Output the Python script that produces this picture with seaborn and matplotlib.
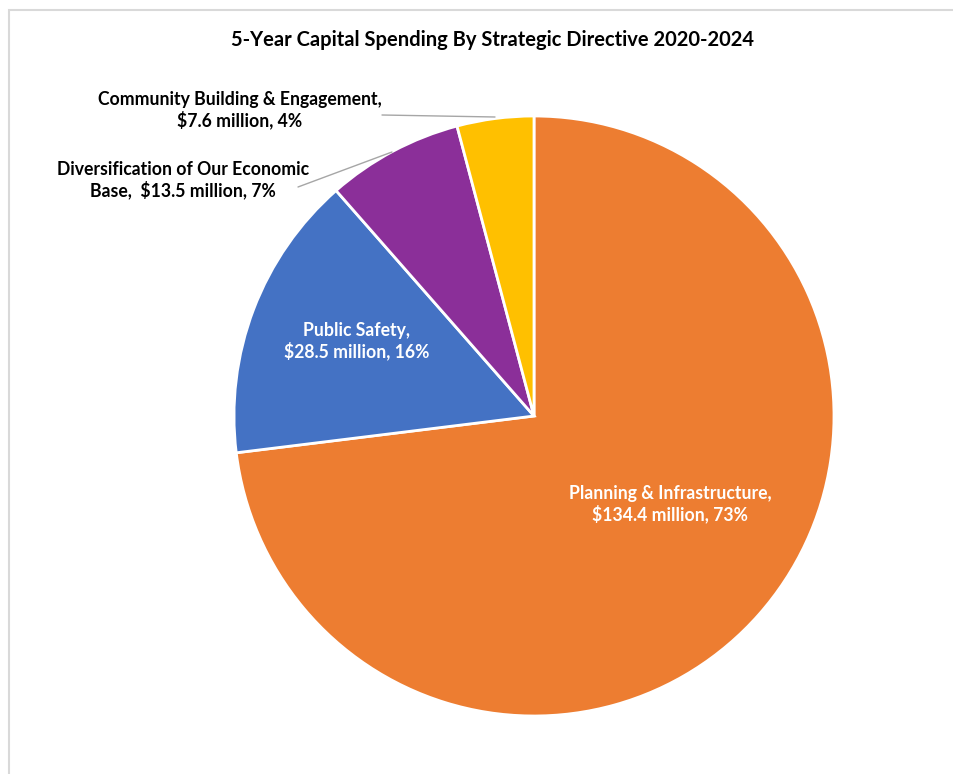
import matplotlib
matplotlib.use("Agg")
import matplotlib.pyplot as plt
from matplotlib.patches import Rectangle
import seaborn as sns

# Capital spending by strategic directive, 2020-2024 ($ millions)
directives = [
    "Planning & Infrastructure",
    "Public Safety",
    "Diversification of Our Economic\nBase, ",
    "Community Building & Engagement",
]
spending = [134.4, 28.5, 13.5, 7.6]
percent_labels = [73, 16, 7, 4]
colors = ["#ED7D31", "#4472C4", "#8B2F99", "#FFC000"]

sns.set_theme(style="white")
plt.rcParams["font.family"] = ["Lato", "DejaVu Sans"]

W, H = 954, 774
fig = plt.figure(figsize=(W / 100, H / 100), dpi=100)
fig.patch.set_facecolor("white")
ax = fig.add_axes([0, 0, 1, 1])

# chart-area frame
fig.patches.append(Rectangle((9 / W, -0.1), 1.2, (H - 10) / H + 0.1,
                             transform=fig.transFigure, fill=False,
                             edgecolor="#d9d9d9", linewidth=1.5))

cx, cy, r = 534, H - 416, 300
wedges, _ = ax.pie(spending, colors=colors, startangle=90, counterclock=False,
                   center=(cx, cy), radius=r,
                   wedgeprops=dict(edgecolor="white", linewidth=2))
ax.set_xlim(0, W)
ax.set_ylim(0, H)
ax.set_aspect("equal")
ax.axis("off")

def label(i):
    name = directives[i]
    sep = "" if name.endswith(", ") else ",\n"
    return f"{name}{sep}${spending[i]} million, {percent_labels[i]}%"

LABEL_SIZE = 12.7
fig.text(493 / W, 1 - 40 / H, "5-Year Capital Spending By Strategic Directive 2020-2024",
         ha="center", va="center", fontsize=14.5, fontweight="bold", color="black")

# inside labels
ax.text(670, H - 504, label(0), ha="center", va="center", fontsize=LABEL_SIZE,
        fontweight="bold", color="white", linespacing=1.2)
ax.text(357, H - 341, label(1), ha="center", va="center", fontsize=LABEL_SIZE,
        fontweight="bold", color="white", linespacing=1.2)

# outside labels with leader lines
ax.text(183, H - 180, label(2).replace("\nBase, ", "\nBase,  "), ha="center", va="center",
        fontsize=LABEL_SIZE, fontweight="bold", color="black", linespacing=1.2)
ax.plot([298, 392], [H - 187, H - 152], color="#a6a6a6", linewidth=1)

ax.text(240, H - 110, label(3), ha="center", va="center", fontsize=LABEL_SIZE,
        fontweight="bold", color="black", linespacing=1.2)
ax.plot([382, 495], [H - 115, H - 117], color="#a6a6a6", linewidth=1)

fig.savefig("out.png", dpi=100, facecolor="white")
